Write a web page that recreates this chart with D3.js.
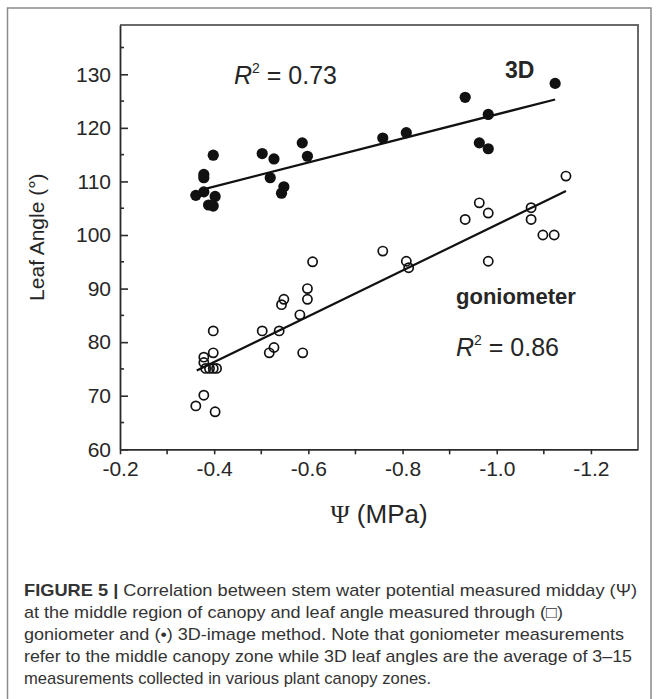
<!DOCTYPE html>
<html><head><meta charset="utf-8">
<script src="https://cdn.jsdelivr.net/npm/d3@7"></script>
<style>
html,body{margin:0;padding:0;background:#fff;}
svg{display:block;}
</style></head>
<body>
<svg id="chart" width="657" height="699"></svg>
<script>
// ---- data ----
const xTickValues = [-0.2, -0.4, -0.6, -0.8, -1.0, -1.2];
const xTickLabels = ["-0.2", "-0.4", "-0.6", "-0.8", "-1.0", "-1.2"];
const yTickValues = [60, 70, 80, 90, 100, 110, 120, 130];
const yTickLabels = ["60", "70", "80", "90", "100", "110", "120", "130"];

// 3D-image method (filled circles)
const psi3D   = [-0.361, -0.378, -0.378, -0.378, -0.398, -0.402, -0.388, -0.398, -0.502, -0.527, -0.519,
                 -0.548, -0.543, -0.587, -0.598, -0.758, -0.808, -0.933, -0.982, -0.963, -0.982, -1.124];
const angle3D = [107.4, 111.3, 110.7, 108.05, 114.9, 107.2, 105.6, 105.4, 115.2, 114.2, 110.7,
                 109.0, 107.8, 117.2, 114.7, 118.1, 119.1, 125.7, 122.5, 117.2, 116.1, 128.3];

// goniometer (open circles)
const psiGon   = [-0.361, -0.378, -0.402, -0.398, -0.398, -0.378, -0.378, -0.382, -0.390, -0.398, -0.405,
                  -0.502, -0.538, -0.517, -0.527, -0.543, -0.548, -0.582, -0.588, -0.598, -0.598, -0.609,
                  -0.758, -0.808, -0.813, -0.933, -0.963, -0.982, -0.982, -1.073, -1.073, -1.098, -1.122, -1.147];
const angleGon = [68.1, 70.1, 67.0, 82.1, 78.0, 77.2, 76.2, 75.1, 75.1, 75.1, 75.1,
                  82.1, 82.1, 78.0, 79.0, 87.0, 88.0, 85.1, 78.0, 90.0, 88.0, 95.0,
                  97.0, 95.1, 93.9, 102.9, 106.0, 104.1, 95.1, 105.1, 102.9, 100.0, 100.0, 111.0];

// regression lines (end points)
const fit3DPsi   = [-0.385, -1.124];
const fit3DAngle = [108.7, 125.3];
const fitGonPsi   = [-0.363, -1.147];
const fitGonAngle = [74.7, 108.2];

const captionLines = [
  "Correlation between stem water potential measured midday (\u03A8)",
  "at the middle region of canopy and leaf angle measured through (\u25A1)",
  "goniometer and (\u2022) 3D-image method. Note that goniometer measurements",
  "refer to the middle canopy zone while 3D leaf angles are the average of 3\u201315",
  "measurements collected in various plant canopy zones."
];

// ---- layout ----
const svg = d3.select("#chart");
const W = 657, H = 699;
const plot = {left: 120, right: 638, top: 25, bottom: 449.3};

svg.append("rect").attr("width", W).attr("height", H).attr("fill", "#fff");
// figure box
svg.append("rect").attr("x", 7.5).attr("y", 8).attr("width", 643.5).attr("height", 700)
  .attr("fill", "none").attr("stroke", "#8a8a8a").attr("stroke-width", 1.5);

const x = d3.scaleLinear().domain([-0.2, -1.3]).range([plot.left, plot.right]);
const y = d3.scaleLinear().domain([60, 139.2]).range([plot.bottom, plot.top]);

const axisColor = "#2b2b2b";
const textColor = "#262626";
const fontFam = "'Liberation Sans', Arial, Helvetica, sans-serif";

// frame (top & right)
svg.append("path")
  .attr("d", `M${plot.left},${plot.top}H${plot.right}V${plot.bottom}`)
  .attr("fill", "none").attr("stroke", "#6a6a6a").attr("stroke-width", 2);

// x axis: ticks outward
const xMinor = d3.range(-0.3, -1.31, -0.2).map(v => +v.toFixed(2));
const gx = svg.append("g").attr("transform", `translate(0,${plot.bottom})`);
gx.call(d3.axisBottom(x).tickValues(xTickValues).tickFormat((d, i) => xTickLabels[i]).tickSizeInner(5).tickSizeOuter(0).tickPadding(7));
gx.selectAll(".tick").filter((d) => false).remove();
gx.select(".domain").attr("stroke", axisColor).attr("stroke-width", 1.8);
gx.selectAll(".tick line").attr("stroke", axisColor).attr("stroke-width", 1.6);
gx.selectAll(".tick text").attr("font-family", fontFam).attr("font-size", 21).attr("fill", textColor);
gx.selectAll(".minor").data(xMinor.filter(v => v > -1.29)).enter().append("line")
  .attr("class", "minor").attr("x1", d => x(d)).attr("x2", d => x(d)).attr("y1", 0).attr("y2", 5)
  .attr("stroke", axisColor).attr("stroke-width", 1.6);

// y axis: ticks inward
const yMinor = d3.range(65, 136, 10);
const gy = svg.append("g").attr("transform", `translate(${plot.left},0)`);
gy.call(d3.axisLeft(y).tickValues(yTickValues).tickFormat((d, i) => yTickLabels[i]).tickSizeInner(0).tickSizeOuter(0).tickPadding(9));
gy.select(".domain").attr("stroke", axisColor).attr("stroke-width", 1.8);
gy.selectAll(".tick text").attr("font-family", fontFam).attr("font-size", 21).attr("fill", textColor);
gy.selectAll(".tick").append("line").attr("x1", 0).attr("x2", 8).attr("y1", 0).attr("y2", 0)
  .attr("stroke", axisColor).attr("stroke-width", 1.6);
gy.selectAll(".minor").data(yMinor).enter().append("line")
  .attr("class", "minor").attr("x1", 0).attr("x2", 4).attr("y1", d => y(d)).attr("y2", d => y(d))
  .attr("stroke", axisColor).attr("stroke-width", 1.6);

// axis titles
svg.append("text").attr("transform", `translate(44,${(plot.top + plot.bottom) / 2}) rotate(-90)`)
  .attr("text-anchor", "middle").attr("font-family", fontFam).attr("font-size", 21).attr("fill", textColor)
  .text("Leaf Angle (\u00B0)");
const xt = svg.append("text").attr("x", 379).attr("y", 523).attr("text-anchor", "middle")
  .attr("font-family", fontFam).attr("font-size", 26).attr("fill", textColor);
xt.append("tspan").attr("font-family", "'Liberation Serif', 'DejaVu Serif', serif").text("\u03A8");
xt.append("tspan").text(" (MPa)");

// regression lines
const line = d3.line().x(d => x(d[0])).y(d => y(d[1]));
svg.append("path").datum(d3.zip(fit3DPsi, fit3DAngle)).attr("d", line)
  .attr("fill", "none").attr("stroke", "#111").attr("stroke-width", 2.2);
svg.append("path").datum(d3.zip(fitGonPsi, fitGonAngle)).attr("d", line)
  .attr("fill", "none").attr("stroke", "#111").attr("stroke-width", 2.2);

// points
svg.append("g").selectAll("circle").data(d3.zip(psiGon, angleGon)).enter().append("circle")
  .attr("cx", d => x(d[0])).attr("cy", d => y(d[1])).attr("r", 4.6)
  .attr("fill", "none").attr("stroke", "#111").attr("stroke-width", 1.7);
svg.append("g").selectAll("circle").data(d3.zip(psi3D, angle3D)).enter().append("circle")
  .attr("cx", d => x(d[0])).attr("cy", d => y(d[1])).attr("r", 5.6)
  .attr("fill", "#111");

// annotations
function r2(xp, yp, val) {
  const t = svg.append("text").attr("x", xp).attr("y", yp).attr("font-family", fontFam)
    .attr("font-size", 25).attr("fill", textColor);
  t.append("tspan").attr("font-style", "italic").text("R");
  t.append("tspan").attr("font-size", 14).attr("dy", -11).text("2");
  t.append("tspan").attr("dy", 11).text(" = " + val);
}
r2(234, 84, "0.73");
r2(456, 356, "0.86");
svg.append("text").attr("x", 505).attr("y", 78).attr("font-family", fontFam).attr("font-weight", "bold")
  .attr("font-size", 23).attr("fill", textColor).text("3D");
svg.append("text").attr("x", 456).attr("y", 304).attr("font-family", fontFam).attr("font-weight", "bold")
  .attr("font-size", 22).attr("fill", textColor).text("goniometer");

// caption
const capWidths = [613, 539, 600, 608, 407];
const capTop = 596;
captionLines.forEach((s, i) => {
  const t = svg.append("text").attr("x", 24).attr("y", capTop + i * 22)
    .attr("font-family", fontFam).attr("font-size", 17).attr("fill", "#333")
    .attr("textLength", capWidths[i]).attr("lengthAdjust", "spacingAndGlyphs");
  if (i === 0) {
    t.append("tspan").attr("font-weight", "bold").text("FIGURE 5 | ");
    t.append("tspan").text(s);
  } else {
    t.text(s);
  }
});
</script>
</body></html>
